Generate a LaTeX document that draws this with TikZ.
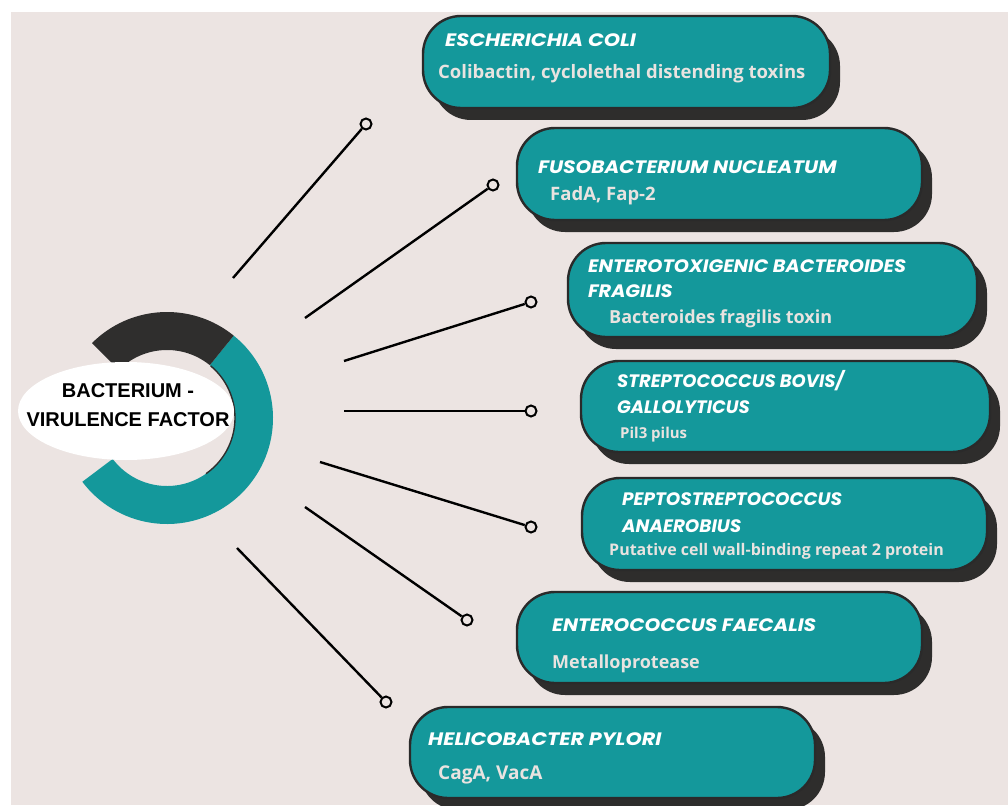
\documentclass[tikz,border=0pt]{standalone}
\usepackage{fontspec}
\setmainfont{Open Sans}
\newfontfamily\hubfont{Liberation Sans}
\newfontfamily\titlefont{Poppins}
\usetikzlibrary{shadows,calc,shapes.geometric}

\definecolor{bgpink}{HTML}{ECE4E2}
\definecolor{tealfill}{HTML}{14989B}
\definecolor{shadowdark}{HTML}{2E2D2C}
\definecolor{cardline}{HTML}{2A2A2A}
\definecolor{subgray}{HTML}{E9E3E0}
\definecolor{ringdark}{HTML}{2F2E2D}

\tikzset{
  card/.style={draw=cardline, line width=2.4pt, fill=tealfill,
    rounded corners=38pt, inner sep=0pt,
    drop shadow={shadow xshift=10pt, shadow yshift=-12pt,
      fill=shadowdark, opacity=1}},
  cardtitle/.style={anchor=base west, inner sep=0pt, text=white,
    font=\titlefont\fontsize{18}{20}\selectfont\bfseries\itshape\addfontfeature{FakeStretch=#1}},
  cardtitle/.default=1,
  cardsub/.style={anchor=base west, inner sep=0pt, text=subgray,
    font=\fontsize{#1}{20}\selectfont\bfseries},
  cardsub/.default=18.5,
  link/.style={line width=2.4pt, black},
  pin/.style={circle, draw=black, line width=2pt, fill=bgpink,
    minimum size=11pt, inner sep=0pt},
}

\begin{document}
\begin{tikzpicture}[x=1pt,y=1pt]
  % canvas and backdrop
  \fill[white] (0,0) rectangle (1008,-805);
  \useasboundingbox (0,0) rectangle (1008,-805);
  \fill[bgpink] (11,-12) rectangle (1008,-805);

  % hub ring
  \coordinate (hub) at (167,-418);
  \fill[tealfill] ($(hub)+(51:106pt)$) arc[start angle=51, end angle=-143, radius=106pt]
    -- ($(hub)+(-143:68pt)$) arc[start angle=-143, end angle=51, radius=68pt] -- cycle;
  \fill[ringdark] ($(hub)+(135:106pt)$) arc[start angle=135, end angle=51, radius=106pt]
    -- ($(hub)+(51:68pt)$) arc[start angle=51, end angle=135, radius=68pt] -- cycle;
  \draw[ringdark, line width=1.4pt] ($(hub)+(50:68pt)$) arc[start angle=50, end angle=-55, radius=68pt];

  % hub label
  \node[ellipse, fill=white, minimum width=216pt, minimum height=98pt, inner sep=0pt]
    (hubdisc) at (126,-411) {};
  \node[align=center, inner sep=0pt, font=\hubfont\fontsize{20}{29}\selectfont\bfseries]
    (hublabel) at (128,-405) {BACTERIUM -\\VIRULENCE FACTOR};

  % cards
  \node[card, minimum width=407pt, minimum height=92pt] (c1) at (626.5,-62) {};
  \node[card, minimum width=405pt, minimum height=92pt] (c2) at (719.5,-174) {};
  \node[card, minimum width=409pt, minimum height=94pt] (c3) at (772.5,-290) {};
  \node[card, minimum width=409pt, minimum height=91pt] (c4) at (785.5,-406.5) {};
  \node[card, minimum width=405pt, minimum height=92pt] (c5) at (784.5,-524) {};
  \node[card, minimum width=405pt, minimum height=91pt] (c6) at (719.5,-637.5) {};
  \node[card, minimum width=405pt, minimum height=91pt] (c7) at (612.5,-752.5) {};

  % card texts
  \node[cardtitle=1.15] (t1) at (445,-47) {ESCHERICHIA COLI};
  \node[cardsub] (s1) at (438,-79) {Colibactin, cyclolethal distending toxins};

  \node[cardtitle=1.11] (t2) at (538,-173) {FUSOBACTERIUM NUCLEATUM};
  \node[cardsub] (s2) at (550,-200) {FadA, Fap-2};

  \node[cardtitle=1.07] (t3a) at (588,-272) {ENTEROTOXIGENIC BACTEROIDES};
  \node[cardtitle=1.07] (t3b) at (588,-297) {FRAGILIS};
  \node[cardsub=18] (s3) at (609,-323) {Bacteroides fragilis toxin};

  \node[cardtitle] (t4a) at (617,-387) {STREPTOCOCCUS BOVIS/};
  \node[cardtitle] (t4b) at (617,-413) {GALLOLYTICUS};
  \node[cardsub=15] (s4) at (620,-438) {Pil3 pilus};

  \node[cardtitle=1.02] (t5a) at (622,-505) {PEPTOSTREPTOCOCCUS};
  \node[cardtitle=1.02] (t5b) at (622,-532) {ANAEROBIUS};
  \node[cardsub=16] (s5) at (609,-555) {Putative cell wall-binding repeat 2 protein};

  \node[cardtitle=1.11] (t6) at (552,-631) {ENTEROCOCCUS FAECALIS};
  \node[cardsub=18] (s6) at (552,-668) {Metalloprotease};

  \node[cardtitle=1.15] (t7) at (428,-745) {HELICOBACTER PYLORI};
  \node[cardsub=19] (s7) at (438,-779) {CagA, VacA};

  % spokes from the hub towards the cards
  \coordinate (a1) at (233,-278);
  \coordinate (a2) at (305,-318);
  \coordinate (a3) at (344,-361);
  \coordinate (a4) at (344,-411);
  \coordinate (a5) at (320,-462);
  \coordinate (a6) at (305,-507);
  \coordinate (a7) at (237,-548);

  \node[pin] (p1) at (366,-124) {};
  \node[pin] (p2) at (493,-185) {};
  \node[pin] (p3) at (531,-302) {};
  \node[pin] (p4) at (531,-411) {};
  \node[pin] (p5) at (531,-527) {};
  \node[pin] (p6) at (467,-620) {};
  \node[pin] (p7) at (386,-702) {};

  \foreach \i in {1,...,7} \draw[link] (a\i) -- (p\i);
\end{tikzpicture}
\end{document}
